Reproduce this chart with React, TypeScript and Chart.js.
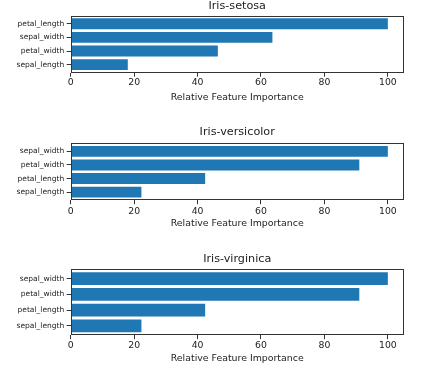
import React, { useEffect, useRef } from "react";
import { Chart, registerables } from "chart.js";

Chart.register(...registerables);

// ---- data (features listed bottom-to-top, as matplotlib barh draws them) ----
const titles = ["Iris-setosa", "Iris-versicolor", "Iris-virginica"];
const setosaFeatures = ["sepal_length", "petal_width", "sepal_width", "petal_length"];
const setosaValues = [18.0, 46.4, 63.6, 100];
const versicolorFeatures = ["sepal_length", "petal_length", "petal_width", "sepal_width"];
const versicolorValues = [22.3, 42.4, 91.0, 100];
const virginicaFeatures = ["sepal_length", "petal_length", "petal_width", "sepal_width"];
const virginicaValues = [22.3, 42.4, 91.0, 100];
const xTicks = [0, 20, 40, 60, 80, 100];
const xLabel = "Relative Feature Importance";

// ---- layout (page coordinates of each subplot) ----
const LEFT = 70.7;
const RIGHT = 403.7;
const GEOS = [
  { titleC: 6.3, top: 15.7, bottom: 72.7, tickC: 82.8, labelC: 97.7 },
  { titleC: 131.7, top: 143.3, bottom: 200.2, tickC: 211.2, labelC: 223.8 },
  { titleC: 259.2, top: 269.3, bottom: 335.2, tickC: 345.8, labelC: 358.8 },
];

const FAMILY = "'DejaVu Sans', sans-serif";
const TEXT = "#222";
const BAR = "#1f77b4";
const TITLE_SIZE = 11.2;
const XLABEL_SIZE = 9.4;
const XTICK_SIZE = 9.3;
const YTICK_SIZE = 7.5;
const TICK_LEN = 4;

const framePlugin = {
  id: "frame",
  afterDatasetsDraw(chart: any) {
    const { ctx, chartArea: a } = chart;
    ctx.save();
    ctx.strokeStyle = "#333";
    ctx.lineWidth = 1;
    const l = Math.round(a.left) + 0.5;
    const t = Math.round(a.top) + 0.5;
    const r = Math.round(a.right) - 0.5;
    const b = Math.round(a.bottom) - 0.5;
    ctx.strokeRect(l, t, r - l, b - t);
    ctx.restore();
  },
};

type Geo = { titleC: number; top: number; bottom: number; tickC: number; labelC: number };

function Panel({ title, features, values, geo }: { title: string; features: string[]; values: number[]; geo: Geo }) {
  const ref = useRef<HTMLCanvasElement | null>(null);
  const lhT = TITLE_SIZE * 1.2;
  const lhX = XLABEL_SIZE * 1.2;
  const lhTick = XTICK_SIZE * 1.2;
  const C = Math.floor(geo.titleC - lhT / 2 - 1);
  const H = Math.ceil(geo.labelC - C + lhX / 2 + 2);

  useEffect(() => {
    if (!ref.current) return;
    const pt = geo.titleC - C - lhT / 2;
    const pb = geo.top - C - pt - lhT;
    const bottomRel = geo.bottom - C;
    const xh = H - bottomRel;
    const xTitlePb = H - (geo.labelC - C) - lhX / 2;
    const tickPad = geo.tickC - geo.bottom - TICK_LEN - lhTick / 2;

    const gridOpts = {
      display: true,
      drawOnChartArea: false,
      drawTicks: true,
      tickLength: TICK_LEN,
      color: "#333",
      lineWidth: 1,
      offset: false,
    };

    const chart = new Chart(ref.current, {
      type: "bar",
      data: {
        datasets: [
          {
            data: values.map((v, i) => ({ x: v, y: i })),
            backgroundColor: BAR,
            borderWidth: 0,
            barPercentage: 0.8,
            categoryPercentage: 1,
          },
        ],
      },
      options: {
        indexAxis: "y",
        responsive: false,
        animation: false,
        layout: { padding: { left: 0, right: 430 - RIGHT, top: 0, bottom: 0 } },
        plugins: {
          legend: { display: false },
          tooltip: { enabled: false },
          title: {
            display: true,
            text: title,
            fullSize: false,
            color: TEXT,
            font: { family: FAMILY, size: TITLE_SIZE, weight: "normal", lineHeight: 1.2 },
            padding: { top: pt, bottom: pb },
          },
        },
        scales: {
          x: {
            type: "linear",
            position: "bottom",
            min: 0,
            max: 105,
            offset: false,
            afterBuildTicks: (s: any) => {
              s.ticks = xTicks.map((v) => ({ value: v }));
            },
            afterFit: (s: any) => {
              s.height = xh;
            },
            grid: gridOpts,
            border: { display: false },
            ticks: {
              color: TEXT,
              font: { family: FAMILY, size: XTICK_SIZE, lineHeight: 1.2 },
              padding: tickPad,
              maxRotation: 0,
              autoSkip: false,
            },
            title: {
              display: true,
              text: xLabel,
              color: TEXT,
              font: { family: FAMILY, size: XLABEL_SIZE, lineHeight: 1.2 },
              padding: { top: 0, bottom: xTitlePb },
            },
          },
          y: {
            type: "linear",
            min: -0.59,
            max: 3.59,
            offset: false,
            afterBuildTicks: (s: any) => {
              s.ticks = features.map((_, i) => ({ value: i }));
            },
            afterFit: (s: any) => {
              s.width = LEFT;
            },
            grid: gridOpts,
            border: { display: false },
            ticks: {
              color: TEXT,
              font: { family: FAMILY, size: YTICK_SIZE, lineHeight: 1.2 },
              padding: 2.5,
              autoSkip: false,
              callback: (v: any) => features[Math.round(Number(v))] ?? "",
            },
          },
        },
      } as any,
      plugins: [framePlugin],
    });
    return () => chart.destroy();
  }, []);

  return (
    <canvas
      ref={ref}
      width={430}
      height={H}
      style={{ position: "absolute", left: 0, top: C, width: 430, height: H }}
    />
  );
}

export default function App() {
  const featureSets = [setosaFeatures, versicolorFeatures, virginicaFeatures];
  const valueSets = [setosaValues, versicolorValues, virginicaValues];
  return (
    <div
      style={{
        position: "absolute",
        left: 0,
        top: 0,
        width: 430,
        height: 367,
        overflow: "hidden",
        background: "#fff",
      }}
    >
      {titles.map((t, k) => (
        <Panel key={t} title={t} features={featureSets[k]} values={valueSets[k]} geo={GEOS[k]} />
      ))}
    </div>
  );
}
